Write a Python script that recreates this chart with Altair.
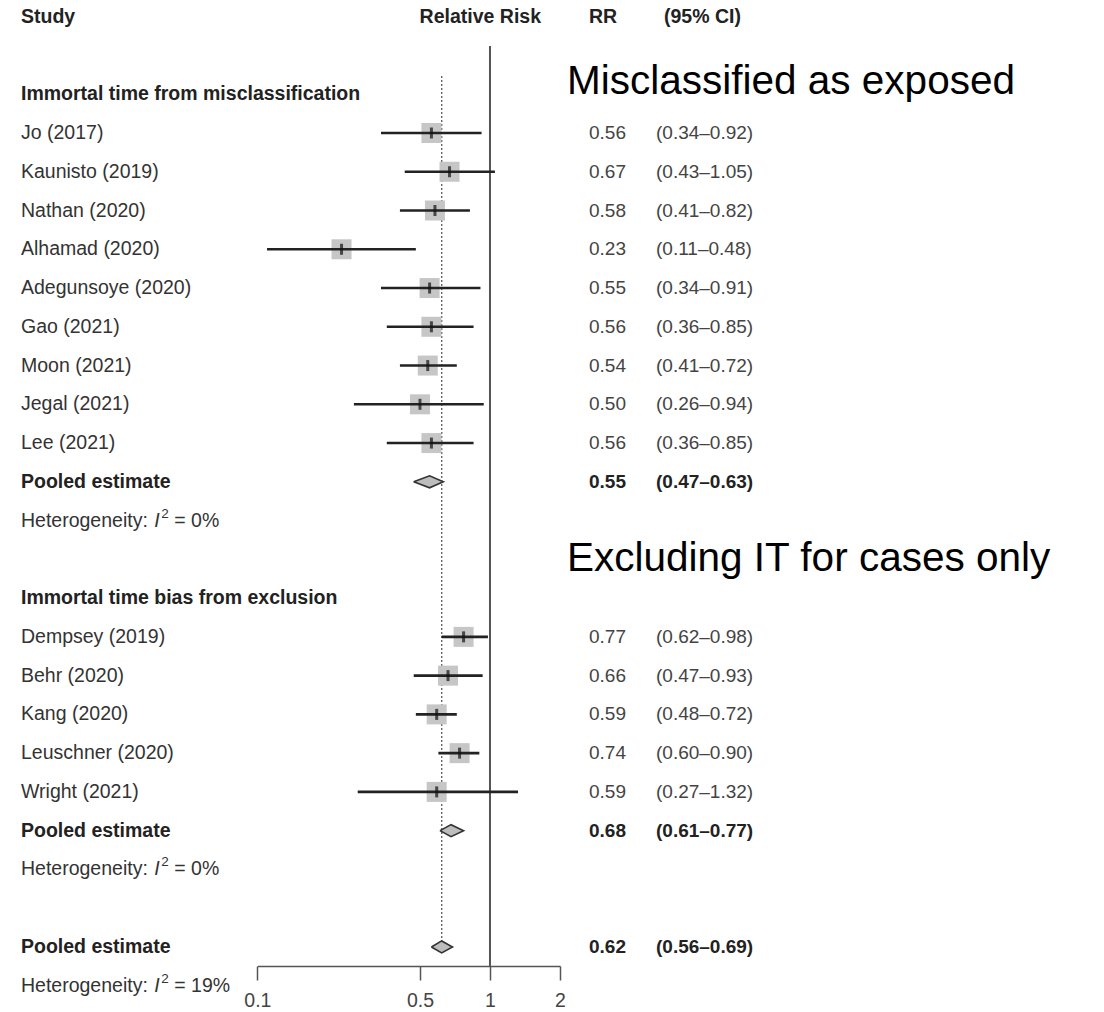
import altair as alt
import pandas as pd

# Immortal time from misclassification
mis_study = ["Jo (2017)", "Kaunisto (2019)", "Nathan (2020)", "Alhamad (2020)",
             "Adegunsoye (2020)", "Gao (2021)", "Moon (2021)", "Jegal (2021)", "Lee (2021)"]
mis_rr = [0.56, 0.67, 0.58, 0.23, 0.55, 0.56, 0.54, 0.50, 0.56]
mis_lo = [0.34, 0.43, 0.41, 0.11, 0.34, 0.36, 0.41, 0.26, 0.36]
mis_hi = [0.92, 1.05, 0.82, 0.48, 0.91, 0.85, 0.72, 0.94, 0.85]

# Immortal time bias from exclusion
exc_study = ["Dempsey (2019)", "Behr (2020)", "Kang (2020)", "Leuschner (2020)", "Wright (2021)"]
exc_rr = [0.77, 0.66, 0.59, 0.74, 0.59]
exc_lo = [0.62, 0.47, 0.48, 0.60, 0.27]
exc_hi = [0.98, 0.93, 0.72, 0.90, 1.32]

# Pooled estimates: subgroup 1, subgroup 2, overall
pool_rr = [0.55, 0.68, 0.62]
pool_lo = [0.47, 0.61, 0.56]
pool_hi = [0.63, 0.77, 0.69]
het_i2 = ["0%", "0%", "19%"]

group_titles = ["Immortal time from misclassification", "Immortal time bias from exclusion"]
annotations = ["Misclassified as exposed", "Excluding IT for cases only"]
col_headers = ["Study", "Relative Risk", "RR", "(95% CI)"]
x_ticks = [0.1, 0.5, 1, 2]

# Row layout (one row per line of the table)
mis_rows = list(range(1, 1 + len(mis_study)))
exc_rows = list(range(14, 14 + len(exc_study)))
group_rows = [0, 13]
pool_rows = [10, 19, 22]
het_rows = [11, 20, 23]

FONT = "Liberation Sans"
FS = 19.5
TXT = "#333333"
X = alt.Scale(type="log", domain=[0.1, 2], range=[257.4, 560.0], nice=False)
Y = alt.Scale(domain=[0, 23], range=[94.24, 985.7])
x_axis = alt.Axis(values=x_ticks, format="~g", title=None, grid=False,
                  tickSize=14, tickWidth=1.5, tickColor="#555555",
                  domainColor="#555555", domainWidth=1.5,
                  labelFont=FONT, labelFontSize=FS, labelColor="#444444",
                  labelPadding=11, labelFlush=False)


def fmt_rr(v):
    return f"{v:.2f}"


def fmt_ci(lo, hi):
    return f"({lo:.2f}\u2013{hi:.2f})"


studies = pd.DataFrame({
    "label": mis_study + exc_study,
    "rr": mis_rr + exc_rr,
    "lo": mis_lo + exc_lo,
    "hi": mis_hi + exc_hi,
    "row": mis_rows + exc_rows,
})
studies["rr_txt"] = [fmt_rr(v) for v in studies["rr"]]
studies["ci_txt"] = [fmt_ci(a, b) for a, b in zip(studies["lo"], studies["hi"])]

pooled = pd.DataFrame({
    "label": ["Pooled estimate"] * 3,
    "rr": pool_rr, "lo": pool_lo, "hi": pool_hi, "row": pool_rows,
})
pooled["rr_txt"] = [fmt_rr(v) for v in pooled["rr"]]
pooled["ci_txt"] = [fmt_ci(a, b) for a, b in zip(pooled["lo"], pooled["hi"])]

# Diamond geometry built from the pooled estimates
half_h = 0.155          # half height of a diamond, in rows
dia_px = 12             # full diamond height, in pixels (trail width)
fill_pts, edge_pts = [], []
for i, (r, lo, hi, row) in enumerate(zip(pool_rr, pool_lo, pool_hi, pool_rows)):
    for v, w in ((lo, 0), (r, dia_px), (hi, 0)):
        fill_pts.append({"gid": i, "val": v, "prow": row, "w": w})
    for k, (v, rr_off) in enumerate(((lo, 0), (r, -half_h), (hi, 0), (r, half_h), (lo, 0))):
        edge_pts.append({"gid": i, "val": v, "prow": row + rr_off, "k": k})
dia_fill = pd.DataFrame(fill_pts)
dia_edge = pd.DataFrame(edge_pts)

groups = pd.DataFrame({"label": group_titles, "row": group_rows})
het = pd.DataFrame({"row": het_rows, "i2": het_i2})
het["rest"] = ["= " + v for v in het["i2"]]

yq = alt.Y("row:Q", scale=Y, axis=None)

# Reference lines
null_line = alt.Chart(pd.DataFrame({"v": [1.0]})).mark_rule(
    color="#555555", strokeWidth=2
).encode(x=alt.X("v:Q", scale=X, axis=x_axis), y=alt.value(46), y2=alt.value(966))

pool_line = alt.Chart(pd.DataFrame({"v": [pool_rr[2]], "top": [-0.47], "bot": [pool_rows[2]]})).mark_rule(
    color="#666666", strokeWidth=1.4, strokeDash=[2, 2]
).encode(x=alt.X("v:Q", scale=X, axis=x_axis),
         y=alt.Y("top:Q", scale=Y, axis=None), y2="bot:Q")

# Study markers
boxes = alt.Chart(studies).mark_square(size=400, color="#c6c6c6", opacity=1).encode(
    x=alt.X("rr:Q", scale=X, axis=x_axis), y=yq)
ci_lines = alt.Chart(studies).mark_rule(color="#222222", strokeWidth=2.6).encode(
    x=alt.X("lo:Q", scale=X, axis=x_axis), x2="hi:Q", y=yq)
est_ticks = alt.Chart(studies).mark_tick(orient="vertical", size=11, thickness=3, color="#111111").encode(
    x=alt.X("rr:Q", scale=X, axis=x_axis), y=yq)

# Pooled diamonds: filled body plus outline
dia_body = alt.Chart(dia_fill).mark_trail(color="#bdbdbd", opacity=1).encode(
    x=alt.X("val:Q", scale=X, axis=x_axis),
    y=alt.Y("prow:Q", scale=Y, axis=None),
    size=alt.Size("w:Q", scale=None, legend=None),
    detail="gid:N")
dia_line = alt.Chart(dia_edge).mark_line(color="#333333", strokeWidth=1.6).encode(
    x=alt.X("val:Q", scale=X, axis=x_axis),
    y=alt.Y("prow:Q", scale=Y, axis=None),
    order=alt.Order("k:Q"),
    detail="gid:N")


def text_layer(df, field, x, bold=False, color=TXT, size=FS):
    return alt.Chart(df).mark_text(
        align="left", baseline="middle", font=FONT, fontSize=size,
        fontWeight="bold" if bold else "normal", color=color
    ).encode(x=alt.value(x), y=yq, text=f"{field}:N")


LEFT, RR_X, CI_X = 21, 589, 656

study_lbl = text_layer(studies, "label", LEFT)
study_rr = text_layer(studies, "rr_txt", RR_X, color="#444444", size=19)
study_ci = text_layer(studies, "ci_txt", CI_X, color="#444444", size=19)
pool_lbl = text_layer(pooled, "label", LEFT, bold=True, color="#222222")
pool_rr_t = text_layer(pooled, "rr_txt", RR_X, bold=True, color="#222222", size=19)
pool_ci_t = text_layer(pooled, "ci_txt", CI_X, bold=True, color="#222222", size=19)
group_lbl = text_layer(groups, "label", LEFT, bold=True, color="#222222")

# "Heterogeneity: I^2 = x%" with italic I and raised 2
w_lead = 6.781 * FS
het_a = alt.Chart(het).mark_text(align="left", baseline="middle", font=FONT, fontSize=FS, color=TXT).encode(
    x=alt.value(LEFT), y=yq, text=alt.value("Heterogeneity:"))
het_b = alt.Chart(het).mark_text(align="left", baseline="middle", font=FONT, fontSize=FS, color=TXT,
                                 fontStyle="italic", dx=w_lead + 1).encode(
    x=alt.value(LEFT), y=yq, text=alt.value("I"))
het_c = alt.Chart(het).mark_text(align="left", baseline="middle", font=FONT, fontSize=13.5, color=TXT,
                                 dx=w_lead + 8, dy=-7).encode(
    x=alt.value(LEFT), y=yq, text=alt.value("2"))
het_d = alt.Chart(het).mark_text(align="left", baseline="middle", font=FONT, fontSize=FS, color=TXT,
                                 dx=w_lead + 21).encode(
    x=alt.value(LEFT), y=yq, text="rest:N")

# Column headers
hdr_x = [LEFT, 541, RR_X, 664]
hdr_align = ["left", "right", "left", "left"]
hdr_layers = []
for lbl, hx, al in zip(col_headers, hdr_x, hdr_align):
    hdr_layers.append(
        alt.Chart(pd.DataFrame({"label": [lbl]})).mark_text(
            align=al, baseline="middle", font=FONT, fontSize=FS, fontWeight="bold", color="#222222"
        ).encode(x=alt.value(hx), y=alt.value(17), text="label:N")
    )

# Large side annotations
ann_layers = []
for lbl, ay in zip(annotations, [94, 571]):
    ann_layers.append(
        alt.Chart(pd.DataFrame({"label": [lbl]})).mark_text(
            align="left", baseline="alphabetic", font=FONT, fontSize=40.5, color="#000000"
        ).encode(x=alt.value(567), y=alt.value(ay), text="label:N")
    )

chart = alt.layer(
    null_line, pool_line, boxes, ci_lines, est_ticks, dia_body, dia_line,
    study_lbl, study_rr, study_ci, pool_lbl, pool_rr_t, pool_ci_t, group_lbl,
    het_a, het_b, het_c, het_d, *hdr_layers, *ann_layers
).properties(
    width=1104, height=966,
    padding={"left": 0, "right": 0, "top": 0, "bottom": 46},
    autosize=alt.AutoSizeParams(type="none"),
    background="#ffffff",
).configure_view(strokeWidth=0)

chart.save("out.html", embed_options={"renderer": "svg", "actions": False})
